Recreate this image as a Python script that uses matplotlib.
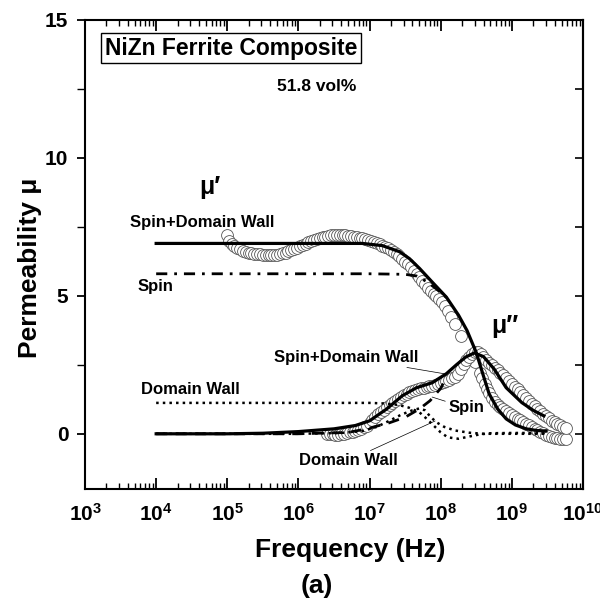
import numpy as np
import matplotlib
matplotlib.use("Agg")
import matplotlib.pyplot as plt
from matplotlib.ticker import LogLocator, MultipleLocator, NullFormatter

plt.rcParams['font.family'] = ['Liberation Sans', 'DejaVu Sans']
plt.rcParams['font.weight'] = 'bold'
plt.rcParams['mathtext.fontset'] = 'custom'
plt.rcParams['mathtext.rm'] = 'Liberation Sans:bold'
plt.rcParams['mathtext.it'] = 'Liberation Sans:bold'
plt.rcParams['mathtext.bf'] = 'Liberation Sans:bold'
plt.rcParams['mathtext.default'] = 'regular'

# measured data (open circles): log10(frequency / Hz) and permeability
mu1_meas_logf = [5.00, 5.03, 5.06, 5.10, 5.14, 5.18, 5.22, 5.26, 5.30, 5.34,
                 5.38, 5.42, 5.46, 5.50, 5.54, 5.58, 5.62, 5.66, 5.70, 5.74,
                 5.78, 5.82, 5.86, 5.90, 5.94, 5.98, 6.02, 6.06, 6.10, 6.14,
                 6.18, 6.22, 6.26, 6.30, 6.34, 6.38, 6.42, 6.46, 6.50, 6.54,
                 6.58, 6.62, 6.66, 6.70, 6.74, 6.78, 6.82, 6.86, 6.90, 6.94,
                 6.98, 7.02, 7.06, 7.10, 7.14, 7.18, 7.22, 7.26, 7.30, 7.34,
                 7.38, 7.42, 7.46, 7.50, 7.54, 7.58, 7.62, 7.66, 7.70, 7.74,
                 7.78, 7.82, 7.86, 7.90, 7.94, 7.98, 8.02, 8.06, 8.10, 8.15,
                 8.20, 8.29, 8.48, 8.55, 8.58, 8.62, 8.65, 8.68, 8.72, 8.76,
                 8.80, 8.84, 8.88, 8.92, 8.96, 9.00, 9.04, 9.08, 9.12, 9.16,
                 9.20, 9.24, 9.28, 9.32, 9.36, 9.40, 9.44, 9.48, 9.52, 9.56,
                 9.60, 9.64, 9.68, 9.72, 9.76]
mu1_meas = [7.19, 6.98, 6.88, 6.80, 6.74, 6.68, 6.63, 6.60, 6.57, 6.55,
            6.53, 6.51, 6.50, 6.49, 6.48, 6.47, 6.47, 6.47, 6.49, 6.51,
            6.54, 6.57, 6.61, 6.65, 6.69, 6.74, 6.79, 6.84, 6.89, 6.94,
            6.99, 7.03, 7.07, 7.10, 7.13, 7.15, 7.17, 7.19, 7.20, 7.20,
            7.20, 7.20, 7.19, 7.18, 7.17, 7.15, 7.13, 7.11, 7.09, 7.06,
            7.03, 7.00, 6.96, 6.92, 6.87, 6.82, 6.77, 6.72, 6.66, 6.59,
            6.51, 6.43, 6.34, 6.24, 6.14, 6.03, 5.91, 5.80, 5.68, 5.55,
            5.42, 5.30, 5.18, 5.08, 4.98, 4.88, 4.76, 4.62, 4.45, 4.25,
            3.98, 3.55, 2.60, 2.20, 2.03, 1.80, 1.62, 1.47, 1.30, 1.16,
            1.05, 0.97, 0.90, 0.83, 0.76, 0.69, 0.62, 0.55, 0.49, 0.43,
            0.37, 0.31, 0.25, 0.19, 0.13, 0.07, 0.02, -0.03, -0.08, -0.12,
            -0.15, -0.17, -0.18, -0.18, -0.18]

mu2_meas_logf = [6.40, 6.44, 6.48, 6.52, 6.56, 6.60, 6.64, 6.68, 6.72, 6.76,
                 6.80, 6.84, 6.88, 6.92, 6.96, 7.00, 7.04, 7.08, 7.12, 7.16,
                 7.20, 7.24, 7.28, 7.32, 7.36, 7.40, 7.44, 7.48, 7.52, 7.56,
                 7.60, 7.64, 7.68, 7.72, 7.76, 7.80, 7.84, 7.88, 7.92, 7.96,
                 8.00, 8.04, 8.08, 8.12, 8.16, 8.20, 8.24, 8.28, 8.32, 8.36,
                 8.40, 8.44, 8.48, 8.52, 8.56, 8.60, 8.64, 8.68, 8.72, 8.76,
                 8.80, 8.84, 8.88, 8.92, 8.96, 9.00, 9.04, 9.08, 9.12, 9.16,
                 9.20, 9.24, 9.28, 9.32, 9.36, 9.40, 9.44, 9.48, 9.52, 9.56,
                 9.60, 9.64, 9.68, 9.72, 9.76]
mu2_meas = [0.00, -0.01, -0.02, -0.03, -0.03, -0.02, 0.00, 0.02, 0.05, 0.07,
            0.10, 0.14, 0.18, 0.24, 0.30, 0.40, 0.50, 0.60, 0.70, 0.79,
            0.88, 0.97, 1.05, 1.13, 1.20, 1.26, 1.32, 1.39, 1.45, 1.51,
            1.56, 1.60, 1.63, 1.65, 1.67, 1.70, 1.72, 1.75, 1.78, 1.81,
            1.85, 1.88, 1.92, 1.96, 2.01, 2.07, 2.18, 2.35, 2.52, 2.68,
            2.80, 2.90, 2.95, 2.95, 2.90, 2.80, 2.69, 2.58, 2.49, 2.40,
            2.31, 2.22, 2.12, 2.01, 1.91, 1.80, 1.70, 1.61, 1.51, 1.41,
            1.30, 1.20, 1.09, 0.99, 0.89, 0.81, 0.72, 0.64, 0.56, 0.48,
            0.42, 0.36, 0.31, 0.26, 0.22]

# fitted curves
mu1_tot_logf = [4.0, 5.0, 6.0, 6.9, 7.18, 7.42, 7.56, 7.7, 7.88, 8.08, 8.25,
                8.37, 8.5, 8.6, 8.68, 8.8, 8.92, 9.05, 9.2, 9.35, 9.48]
mu1_tot = [6.9, 6.9, 6.9, 6.9, 6.82, 6.6, 6.35, 6.0, 5.5, 4.95, 4.3,
           3.74, 2.94, 2.1, 1.45, 0.9, 0.54, 0.32, 0.18, 0.12, 0.1]

mu1_spin_logf = [4.0, 5.0, 6.0, 7.0, 7.5, 7.66, 7.8, 7.94, 8.08]
mu1_spin = [5.8, 5.8, 5.8, 5.8, 5.78, 5.72, 5.52, 5.25, 4.94]

mu1_dw_logf = [4.0, 5.0, 6.0, 7.0, 7.2, 7.4, 7.55, 7.7, 7.8, 7.9, 8.0, 8.1,
               8.25, 8.4, 8.55, 8.7, 9.0, 9.5]
mu1_dw = [1.12, 1.12, 1.12, 1.12, 1.1, 1.05, 0.95, 0.78, 0.55, 0.3, 0.05,
          -0.13, -0.18, -0.1, -0.02, 0.02, 0.03, 0.03]

mu2_tot_logf = [4.0, 5.0, 5.5, 6.0, 6.5, 6.8, 7.0, 7.24, 7.46, 7.66, 7.88,
                8.08, 8.22, 8.35, 8.47, 8.6, 8.75, 8.92, 9.14, 9.3, 9.45]
mu2_tot = [0.0, 0.0, 0.02, 0.08, 0.18, 0.3, 0.47, 0.9, 1.38, 1.67, 1.85,
           2.18, 2.5, 2.78, 2.93, 2.8, 2.35, 1.67, 1.13, 0.85, 0.65]

mu2_spin_logf = [4.0, 5.0, 6.0, 6.7, 6.96, 7.28, 7.5, 7.7, 7.85, 8.0, 8.05]
mu2_spin = [0.0, 0.0, 0.0, 0.05, 0.18, 0.4, 0.6, 0.9, 1.2, 1.65, 1.9]

mu2_dw_logf = [4.0, 6.0, 6.6, 6.9, 7.1, 7.3, 7.45, 7.6, 7.7, 7.78, 7.86,
               7.95, 8.05, 8.2, 8.4, 8.6, 9.0, 9.5]
mu2_dw = [0.0, 0.0, 0.03, 0.1, 0.25, 0.5, 0.7, 0.85, 0.92, 0.85, 0.6,
          0.4, 0.25, 0.12, 0.04, 0.0, 0.0, 0.0]


def hz(logf):
    return 10 ** np.array(logf)


fig = plt.figure(figsize=(6, 6.01), dpi=100)
ax = fig.add_axes([0.1417, 0.1864, 0.83, 0.7804])

circ = dict(marker="o", linestyle="none", markersize=8.5, markerfacecolor="white",
            markeredgecolor="#555555", markeredgewidth=0.6, zorder=2)
ax.plot(hz(mu1_meas_logf), mu1_meas, **circ)
ax.plot(hz(mu2_meas_logf), mu2_meas, **circ)

ax.plot(hz(mu1_tot_logf), mu1_tot, color="black", lw=2.3, zorder=4)
ax.plot(hz(mu2_tot_logf), mu2_tot, color="black", lw=2.3, zorder=4)
ax.plot(hz(mu1_spin_logf), mu1_spin, color="black", lw=2.0,
        linestyle=(0, (4, 2.5, 1, 2.5)), zorder=3)
ax.plot(hz(mu2_spin_logf), mu2_spin, color="black", lw=2.0,
        linestyle=(0, (4, 3)), zorder=3)
ax.plot(hz(mu1_dw_logf), mu1_dw, color="black", lw=1.8, linestyle=":", zorder=3)
ax.plot(hz(mu2_dw_logf), mu2_dw, color="black", lw=1.8, linestyle=":", zorder=3)

ax.set_xscale("log")
ax.set_xlim(1e3, 1e10)
ax.set_ylim(-2, 15)
ax.xaxis.set_major_locator(LogLocator(base=10, numticks=20))
ax.xaxis.set_minor_locator(LogLocator(base=10, subs=np.arange(2, 10), numticks=20))
ax.xaxis.set_minor_formatter(NullFormatter())
ax.yaxis.set_major_locator(MultipleLocator(5))
ax.yaxis.set_minor_locator(MultipleLocator(2.5))

for s in ax.spines.values():
    s.set_linewidth(1.5)
ax.tick_params(axis="x", which="both", direction="in", top=True, labelsize=15, pad=10)
ax.tick_params(axis="x", which="major", length=8, width=1.3)
ax.tick_params(axis="x", which="minor", length=4, width=1.0)
ax.tick_params(axis="y", which="both", direction="out", labelsize=15, pad=6)
ax.tick_params(axis="y", which="major", length=6, width=1.3)
ax.tick_params(axis="y", which="minor", length=6, width=1.0)
# right axis ticks pointing inward
rax = ax.secondary_yaxis("right")
rax.yaxis.set_major_locator(MultipleLocator(5))
rax.yaxis.set_minor_locator(MultipleLocator(2.5))
rax.tick_params(which="both", direction="in", labelright=False, length=6, width=1.2)
rax.spines["right"].set_linewidth(1.5)

# annotations
ax.text(0.293, 0.940, "NiZn Ferrite Composite", transform=ax.transAxes,
        ha="center", va="center", fontsize=16.5,
        bbox=dict(boxstyle="square,pad=0.15", facecolor="white", edgecolor="black", lw=1.0))
ax.text(0.466, 0.859, "51.8 vol%", transform=ax.transAxes, ha="center", va="center", fontsize=12.5)
ax.text(0.251, 0.644, "μ′", transform=ax.transAxes, ha="center", va="center", fontsize=18)
ax.text(0.843, 0.348, "μ″", transform=ax.transAxes, ha="center", va="center", fontsize=18)
ax.text(0.235, 0.569, "Spin+Domain Wall", transform=ax.transAxes, ha="center", va="center", fontsize=12)
ax.text(0.141, 0.431, "Spin", transform=ax.transAxes, ha="center", va="center", fontsize=12)
ax.text(0.211, 0.213, "Domain Wall", transform=ax.transAxes, ha="center", va="center", fontsize=12)

lead = dict(arrowstyle="-", color="black", lw=0.5, shrinkA=0, shrinkB=0)
ax.annotate("Spin+Domain Wall", xy=(0.725, 0.245), xytext=(0.524, 0.281),
            xycoords="axes fraction", textcoords="axes fraction",
            ha="center", va="center", fontsize=12, arrowprops=lead)
ax.annotate("Spin", xy=(0.697, 0.196), xytext=(0.765, 0.173),
            xycoords="axes fraction", textcoords="axes fraction",
            ha="center", va="center", fontsize=12, arrowprops=lead)
ax.annotate("Domain Wall", xy=(0.703, 0.145), xytext=(0.528, 0.060),
            xycoords="axes fraction", textcoords="axes fraction",
            ha="center", va="center", fontsize=12, arrowprops=lead)

fig.text(0.583, 0.085, "Frequency (Hz)", ha="center", va="center", fontsize=19)
fig.text(0.528, 0.025, "(a)", ha="center", va="center", fontsize=19)
fig.text(0.05, 0.554, "Permeability μ", ha="center", va="center", fontsize=19, rotation=90)

fig.savefig("out.png", dpi=100)
